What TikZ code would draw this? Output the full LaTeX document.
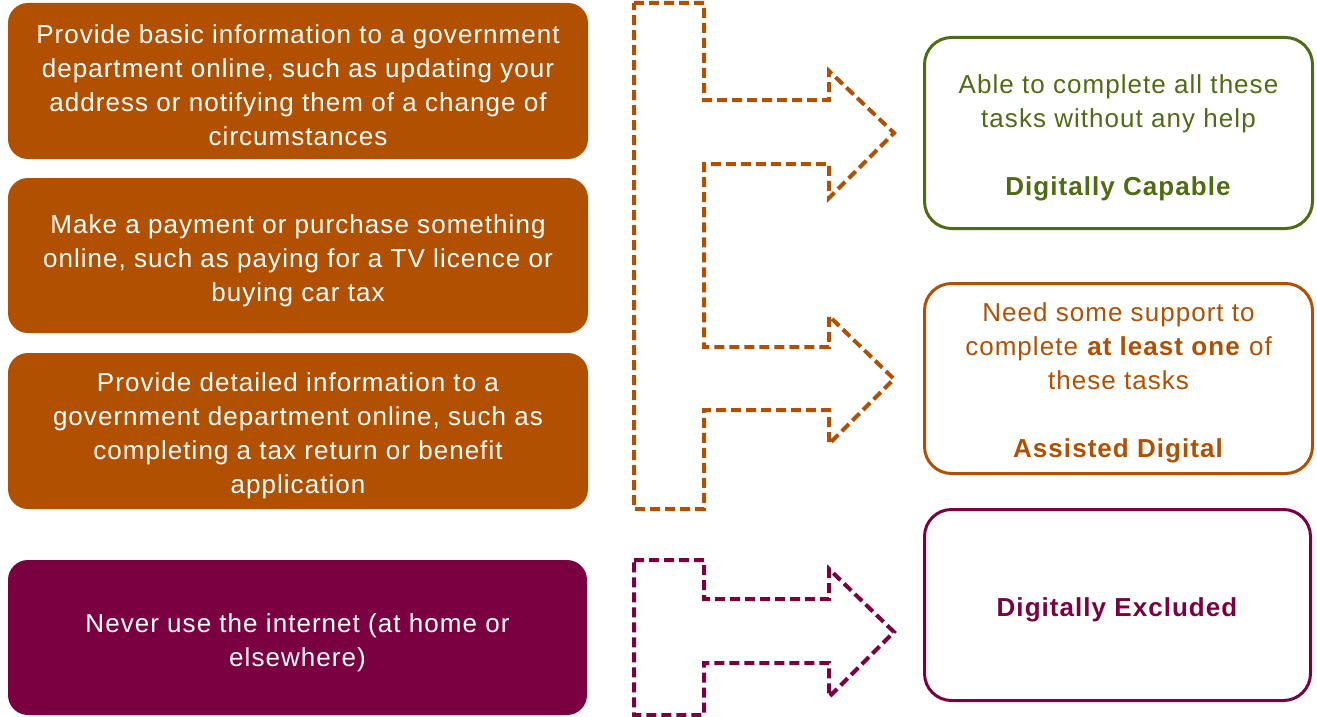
\documentclass[tikz,border=0pt]{standalone}
\usepackage{fontspec}
\setmainfont{Liberation Sans}[LetterSpace=4]
\definecolor{rust}{HTML}{B05000}
\definecolor{plum}{HTML}{7B0041}
\definecolor{olive}{HTML}{4F6B13}
\begin{document}
\begin{tikzpicture}[x=1pt,y=-1pt,
  taskbox/.style={rounded corners=20pt, inner sep=0pt},
  tasktext/.style={inner sep=0pt, align=center, text=white, font=\fontsize{26}{34}\selectfont},
  resultbox/.style={rounded corners=27pt, line width=3pt, inner sep=0pt, fill=white},
  resulttext/.style={inner sep=0pt, align=center, font=\fontsize{26}{34}\selectfont},
  flow/.style={line width=4pt, dash pattern=on 10pt off 5pt, line join=miter}]
\useasboundingbox (0,0) rectangle (1317,717);

\node[taskbox, fill=rust, minimum width=580pt, minimum height=156pt] (b1) at (298,81) {};
\node[tasktext] (t1) at (298,85.5)
  {Provide basic information to a government\\department online, such as updating your\\address or notifying them of a change of\\circumstances};
\node[taskbox, fill=rust, minimum width=580pt, minimum height=155pt] (b2) at (298,255.5) {};
\node[tasktext] (t2) at (298,260.5)
  {Make a payment or purchase something\\online, such as paying for a TV licence or\\buying car tax};
\node[taskbox, fill=rust, minimum width=580pt, minimum height=156pt] (b3) at (298,431) {};
\node[tasktext] (t3) at (298,435.5)
  {Provide detailed information to a\\government department online, such as\\completing a tax return or benefit\\application};
\node[taskbox, fill=plum, minimum width=579pt, minimum height=155pt] (b4) at (297.5,637.5) {};
\node[tasktext] (t4) at (297.5,642.5)
  {Never use the internet (at home or\\elsewhere)};

\node[resultbox, draw=olive, minimum width=388pt, minimum height=191pt] (r1) at (1118.5,133) {};
\node[resulttext, text=olive] (s1) at (1118.5,137.5)
  {Able to complete all these\\tasks without any help\\[34pt]\textbf{Digitally Capable}};
\node[resultbox, draw=rust, minimum width=388pt, minimum height=190pt] (r2) at (1118.5,378.5) {};
\node[resulttext, text=rust] (s2) at (1118.5,383)
  {Need some support to\\complete \textbf{at least one} of\\these tasks\\[34pt]\textbf{Assisted Digital}};
\node[resultbox, draw=plum, minimum width=386pt, minimum height=191pt] (r3) at (1117.5,605) {};
\node[resulttext, text=plum] (s3) at (1117.5,609.5)
  {\textbf{Digitally Excluded}};

\draw[flow, draw=rust] (634,3) -- (704,3) -- (704,100) -- (829,100) -- (829,71) -- (894,133)
  -- (829,198) -- (829,164) -- (704,164) -- (704,347) -- (829,347) -- (829,316) -- (894,379)
  -- (829,444) -- (829,410) -- (704,410) -- (704,509) -- (634,509) -- cycle;
\draw[flow, draw=plum] (634,560) -- (704,560) -- (704,599) -- (829,599) -- (829,569) -- (894,632)
  -- (829,697) -- (829,663) -- (704,663) -- (704,715) -- (634,715) -- cycle;
\end{tikzpicture}
\end{document}
